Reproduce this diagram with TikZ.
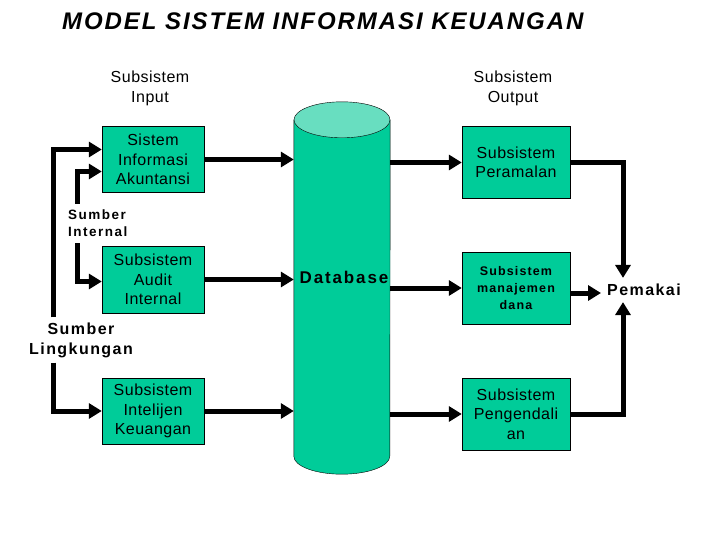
\documentclass[tikz,border=0pt]{standalone}
\usepackage{fontspec}
\setmainfont{Liberation Sans}
\newfontfamily\titlefont[LetterSpace=8]{Liberation Sans}
\newfontfamily\widefont[LetterSpace=11]{Liberation Sans}
\newfontfamily\midfont[LetterSpace=9]{Liberation Sans}
\newfontfamily\boxfont[LetterSpace=3]{Liberation Sans}
\usetikzlibrary{arrows.meta, positioning}
\definecolor{boxgreen}{RGB}{0,204,153}
\definecolor{topgreen}{RGB}{104,222,192}

\begin{document}
\begin{tikzpicture}[
    x=1pt, y=-1pt,
    >={Triangle[length=13pt,width=15pt]}, % Set default arrow tip style
    box/.style={draw, fill=boxgreen, minimum width=102pt, minimum height=66pt, align=center, inner sep=2pt, font=\boxfont\fontsize{16}{19.5}\selectfont}, % Subsystem boxes
    outbox/.style={box, minimum width=108pt, minimum height=72pt}, % Output boxes
    flow/.style={line width=5pt}, % Thick black connectors
    headstyle/.style={align=center, font=\boxfont\fontsize{16}{20}\selectfont}, % Column heads
    srcstyle/.style={align=center, font=\midfont\bfseries\fontsize{16}{20}\selectfont} % Source labels
]
    \useasboundingbox (0,0) rectangle (720,540);

    % Title
    \node[anchor=west, inner sep=0pt, font=\titlefont\bfseries\itshape\fontsize{24}{26}\selectfont] (title) at (62,21) {MODEL SISTEM INFORMASI KEUANGAN};

    % Column heads
    \node[headstyle] (inhead) at (150,88) {Subsistem\\Input};
    \node[headstyle] (outhead) at (513,88) {Subsistem\\Output};

    % Database cylinder
    \node[minimum width=96pt, minimum height=336pt, inner sep=0pt] (db) at (342,288) {};
    \filldraw[fill=boxgreen] (db.north west) -- (db.south west) arc[start angle=180, end angle=0, x radius=48, y radius=18] -- (db.north east) -- cycle;
    \filldraw[fill=topgreen] (db.north) ellipse[x radius=48, y radius=18];
    \node[font=\widefont\bfseries\fontsize{17}{19}\selectfont] (dbtext) at (344,277) {Database};

    % Input subsystems
    \node[box] (sia) at (153,159.5) {Sistem\\Informasi\\Akuntansi};
    \node[box, minimum height=67pt] (audit) at (153,279.5) {Subsistem\\Audit\\Internal};
    \node[box] (intel) at (153,411) {Subsistem\\Intelijen\\Keuangan};

    % Output subsystems
    \node[outbox] (peram) at (516,162.5) {Subsistem\\Peramalan};
    \node[outbox, font=\midfont\bfseries\fontsize{12.5}{17}\selectfont] (dana) at (516,288) {Subsistem\\manajemen\\dana};
    \node[outbox] (kendali) at (516,414) {Subsistem\\Pengendali\\an};

    % Sources and user
    \node[align=left, anchor=west, inner sep=6pt, font=\widefont\bfseries\fontsize{13.5}{17}\selectfont] (intern) at (62,223.5) {Sumber\\Internal};
    \node[srcstyle, inner sep=5pt] (ling) at (81,340) {Sumber\\Lingkungan};
    \node[font=\midfont\bfseries\fontsize{16}{19}\selectfont, inner sep=6pt] (user) at (644,290) {Pemakai};

    % Vertical lanes
    \coordinate (outlane) at (53,0);
    \coordinate (inlane) at (77,0);
    \coordinate (userlane) at (623,0);

    % Sources into inputs
    \draw[flow, ->] (outlane |- ling.north) |- ([yshift=10pt]sia.west);
    \draw[flow, ->] (inlane |- intern.north) |- ([yshift=-12pt]sia.west);
    \draw[flow, ->] (inlane |- intern.south) |- ([yshift=-2pt]audit.west);
    \draw[flow, ->] (outlane |- ling.south) |- (intel.west);

    % Inputs into database
    \draw[flow, ->] (sia.east) -- (sia.east -| db.west);
    \draw[flow, ->] (audit.east) -- (audit.east -| db.west);
    \draw[flow, ->] (intel.east) -- (intel.east -| db.west);

    % Database into outputs
    \draw[flow, ->] (db.east |- peram.west) -- (peram.west);
    \draw[flow, ->] (db.east |- dana.west) -- (dana.west);
    \draw[flow, ->] (db.east |- kendali.west) -- (kendali.west);

    % Outputs to user
    \draw[flow, ->] (peram.east) -| (userlane |- user.north);
    \draw[flow, ->] ([yshift=-5pt]dana.east) -- ([yshift=-5pt]dana.east -| user.west);
    \draw[flow, ->] (kendali.east) -| (userlane |- user.south);

\end{tikzpicture}
\end{document}
